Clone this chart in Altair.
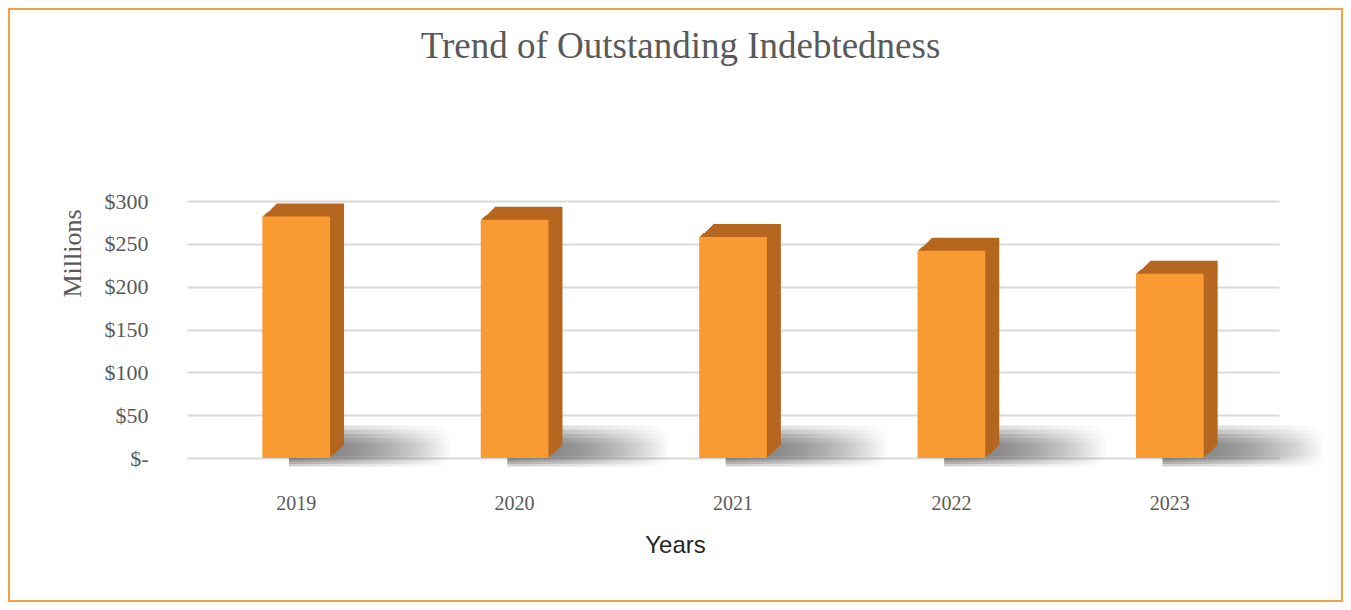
import altair as alt
import pandas as pd

years = ["2019", "2020", "2021", "2022", "2023"]
debt_millions = [282, 278, 258, 242, 215]
y_ticks = [0, 50, 100, 150, 200, 250, 300]

df = pd.DataFrame({"Year": years, "Debt": debt_millions})

FRONT = "#F99A32"
SIDE = "#B5661F"
SERIF = "Liberation Serif"
GREY = "#595959"

x_enc = alt.X(
    "Year:N",
    sort=years,
    scale=alt.Scale(range=[179, 1271], paddingInner=0.69, paddingOuter=0.345),
    axis=alt.Axis(
        title="Years",
        titleFont="Liberation Sans",
        titleFontSize=24,
        titleFontWeight="normal",
        titleColor="#262626",
        titleX=667,
        titleY=58,
        titleBaseline="middle",
        labelFont=SERIF,
        labelFontSize=20,
        labelColor=GREY,
        labelAngle=0,
        labelPadding=6,
        ticks=False,
        domain=False,
        grid=False,
        offset=-115,
    ),
)

y_enc = alt.Y(
    "Debt:Q",
    scale=alt.Scale(domain=[0, 300], range=[450, 193], nice=False, zero=True),
    axis=alt.Axis(
        title="Millions",
        titleFont=SERIF,
        titleFontSize=26,
        titleFontWeight="normal",
        titleColor=GREY,
        titleX=-82,
        titleY=245,
        titleAngle=-90,
        titleAlign="center",
        titleBaseline="middle",
        values=y_ticks,
        labelExpr="datum.value == 0 ? '$-' : '$' + datum.value",
        labelFont=SERIF,
        labelFontSize=22,
        labelColor=GREY,
        labelPadding=6,
        ticks=False,
        domain=False,
        grid=True,
        gridColor="#D9D9D9",
        gridWidth=2,
        offset=-146,
    ),
)

base = alt.Chart(df).encode(x=x_enc, y=y_enc, y2=alt.datum(0))

shadow_fill = alt.Gradient(
    gradient="linear",
    stops=[
        alt.GradientStop(color="rgba(80,80,80,1)", offset=0),
        alt.GradientStop(color="rgba(80,80,80,0.65)", offset=0.4),
        alt.GradientStop(color="rgba(80,80,80,0)", offset=1),
    ],
    x1=0, x2=1, y1=0, y2=0,
)

layers = []
for top, bottom in [(38, -10), (33, -7), (28, -4), (23, -1), (18, 2)]:
    layers.append(
        alt.Chart(df).mark_bar(
            color=shadow_fill, width={"band": 2.4}, xOffset=74, opacity=0.27
        ).encode(x=x_enc, y=alt.datum(top), y2=alt.datum(bottom))
    )

for k in range(14, 0, -1):
    layers.append(
        base.mark_bar(color=SIDE, xOffset=k, yOffset=-round(k * 0.9), y2Offset=-round(k * 0.9))
    )
layers.append(base.mark_bar(color=FRONT))

chart = alt.layer(*layers).properties(
    width=1335,
    height=594,
    background="white",
    title=alt.TitleParams(
        text="Trend of Outstanding  Indebtedness",
        font=SERIF,
        fontSize=37,
        fontWeight="normal",
        color=GREY,
        offset=-58,
        anchor="middle",
        dx=5,
    ),
    autosize=alt.AutoSizeParams(type="none"),
    padding=0,
).configure_view(
    stroke="#F7A145", strokeWidth=4
)

chart.save("out.html", embed_options={"renderer": "svg", "actions": False})
